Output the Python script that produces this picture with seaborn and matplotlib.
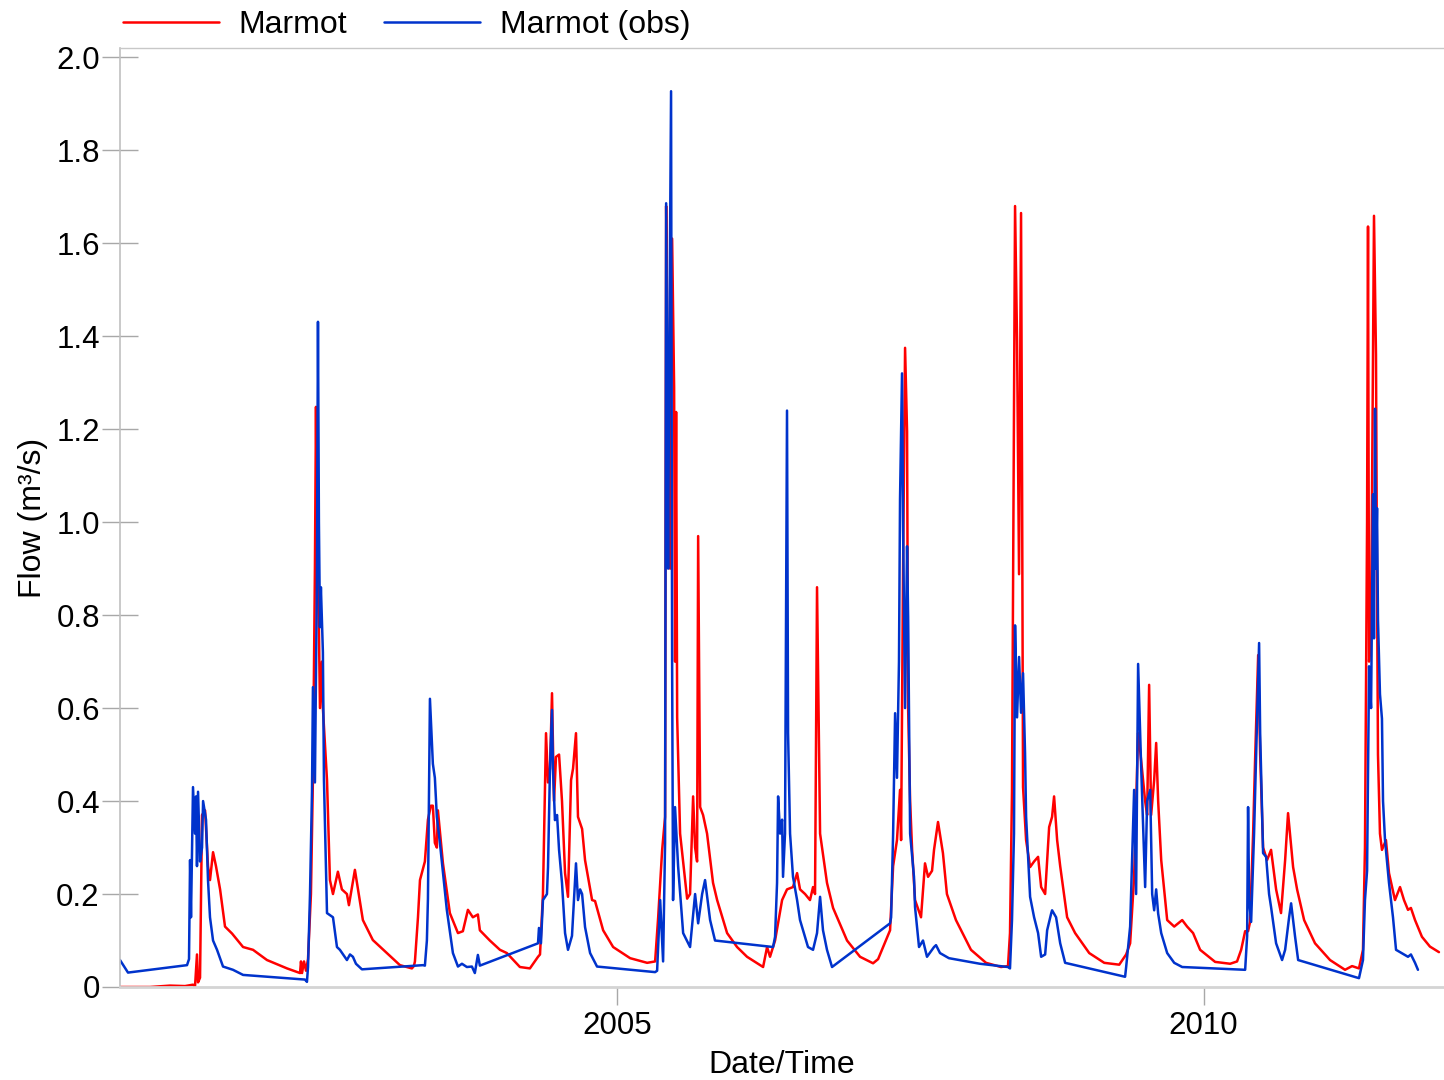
import matplotlib
matplotlib.use("Agg")
import matplotlib.pyplot as plt
import matplotlib.dates as mdates
from matplotlib.ticker import FuncFormatter
import numpy as np
import pandas as pd
import seaborn as sns

# time as decimal years, flow in m3/s
sim_time = [
    2000.763, 2001.019, 2001.189, 2001.317, 2001.385, 2001.402, 2001.419, 2001.428, 2001.445, 2001.462,
    2001.488, 2001.513, 2001.530, 2001.556, 2001.581, 2001.616, 2001.658, 2001.718, 2001.812, 2001.897,
    2002.016, 2002.187, 2002.298, 2002.306, 2002.315, 2002.332, 2002.349, 2002.366, 2002.391, 2002.408,
    2002.425, 2002.434, 2002.442, 2002.459, 2002.468, 2002.485, 2002.493, 2002.528, 2002.553, 2002.579,
    2002.621, 2002.655, 2002.698, 2002.715, 2002.766, 2002.834, 2002.919, 2003.039, 2003.150, 2003.252,
    2003.269, 2003.278, 2003.304, 2003.321, 2003.363, 2003.389, 2003.414, 2003.431, 2003.448, 2003.465,
    2003.474, 2003.517, 2003.576, 2003.645, 2003.687, 2003.730, 2003.772, 2003.815, 2003.832, 2003.917,
    2004.003, 2004.062, 2004.173, 2004.258, 2004.327, 2004.344, 2004.369, 2004.395, 2004.412, 2004.429,
    2004.446, 2004.463, 2004.480, 2004.506, 2004.531, 2004.557, 2004.582, 2004.608, 2004.625, 2004.650,
    2004.667, 2004.702, 2004.727, 2004.787, 2004.812, 2004.881, 2004.966, 2005.111, 2005.256, 2005.324,
    2005.350, 2005.384, 2005.409, 2005.418, 2005.435, 2005.452, 2005.469, 2005.486, 2005.494, 2005.503,
    2005.512, 2005.537, 2005.563, 2005.597, 2005.622, 2005.648, 2005.665, 2005.682, 2005.691, 2005.708,
    2005.733, 2005.767, 2005.818, 2005.853, 2005.938, 2006.023, 2006.108, 2006.245, 2006.279, 2006.304,
    2006.347, 2006.407, 2006.449, 2006.500, 2006.535, 2006.560, 2006.603, 2006.645, 2006.671, 2006.688,
    2006.705, 2006.731, 2006.790, 2006.842, 2006.961, 2007.072, 2007.183, 2007.226, 2007.328, 2007.354,
    2007.387, 2007.413, 2007.422, 2007.439, 2007.456, 2007.473, 2007.482, 2007.499, 2007.516, 2007.541,
    2007.592, 2007.626, 2007.652, 2007.686, 2007.703, 2007.737, 2007.779, 2007.813, 2007.890, 2008.018,
    2008.146, 2008.274, 2008.333, 2008.350, 2008.367, 2008.393, 2008.410, 2008.427, 2008.444, 2008.453,
    2008.461, 2008.487, 2008.521, 2008.555, 2008.589, 2008.615, 2008.649, 2008.683, 2008.708, 2008.725,
    2008.751, 2008.777, 2008.836, 2008.904, 2009.024, 2009.152, 2009.280, 2009.339, 2009.373, 2009.407,
    2009.441, 2009.458, 2009.501, 2009.518, 2009.535, 2009.552, 2009.578, 2009.595, 2009.612, 2009.638,
    2009.689, 2009.749, 2009.817, 2009.859, 2009.910, 2009.970, 2010.098, 2010.226, 2010.285, 2010.320,
    2010.354, 2010.379, 2010.396, 2010.422, 2010.439, 2010.465, 2010.482, 2010.507, 2010.541, 2010.575,
    2010.618, 2010.660, 2010.695, 2010.720, 2010.763, 2010.797, 2010.857, 2010.950, 2011.078, 2011.206,
    2011.266, 2011.325, 2011.359, 2011.376, 2011.394, 2011.402, 2011.411, 2011.428, 2011.436, 2011.453,
    2011.470, 2011.479, 2011.487, 2011.504, 2011.521, 2011.555, 2011.581, 2011.632, 2011.675, 2011.709,
    2011.743, 2011.768, 2011.803, 2011.862, 2011.930, 2012.007,
]
sim_flow = [
    0.0, 0.0, 0.003, 0.002, 0.005, 0.0, 0.07, 0.01, 0.02, 0.37,
    0.38, 0.26, 0.23, 0.29, 0.26, 0.21, 0.13, 0.115, 0.086, 0.08,
    0.058, 0.04, 0.03, 0.055, 0.03, 0.055, 0.035, 0.06, 0.2, 0.45,
    0.9, 1.248, 0.95, 0.77, 0.6, 0.7, 0.6, 0.445, 0.23, 0.2,
    0.248, 0.21, 0.2, 0.176, 0.252, 0.144, 0.101, 0.073, 0.047, 0.04,
    0.045, 0.055, 0.15, 0.23, 0.27, 0.36, 0.39, 0.39, 0.31, 0.30,
    0.38, 0.266, 0.159, 0.116, 0.12, 0.166, 0.15, 0.156, 0.122, 0.10,
    0.08, 0.073, 0.043, 0.04, 0.065, 0.07, 0.2, 0.546, 0.44, 0.47,
    0.632, 0.40, 0.495, 0.5, 0.4, 0.245, 0.194, 0.445, 0.47, 0.546,
    0.366, 0.34, 0.273, 0.187, 0.185, 0.122, 0.086, 0.062, 0.052, 0.055,
    0.15, 0.295, 0.366, 1.68, 1.2, 0.9, 1.61, 1.29, 0.7, 1.237,
    0.58, 0.33, 0.27, 0.19, 0.2, 0.41, 0.30, 0.27, 0.97, 0.387,
    0.37, 0.33, 0.224, 0.187, 0.116, 0.086, 0.065, 0.043, 0.086, 0.065,
    0.1, 0.187, 0.21, 0.215, 0.245, 0.21, 0.2, 0.187, 0.215, 0.2,
    0.86, 0.33, 0.224, 0.17, 0.10, 0.065, 0.051, 0.06, 0.122, 0.26,
    0.316, 0.424, 0.316, 0.9, 1.375, 1.195, 0.6, 0.40, 0.295, 0.187,
    0.15, 0.266, 0.237, 0.25, 0.295, 0.355, 0.288, 0.2, 0.144, 0.08,
    0.052, 0.043, 0.045, 0.116, 0.42, 1.68, 1.39, 0.888, 1.665, 1.07,
    0.43, 0.316, 0.258, 0.27, 0.28, 0.215, 0.2, 0.344, 0.366, 0.41,
    0.316, 0.26, 0.15, 0.116, 0.073, 0.052, 0.048, 0.07, 0.094, 0.237,
    0.546, 0.51, 0.40, 0.37, 0.65, 0.37, 0.445, 0.525, 0.40, 0.273,
    0.144, 0.13, 0.144, 0.13, 0.116, 0.08, 0.054, 0.05, 0.055, 0.08,
    0.12, 0.12, 0.14, 0.33, 0.49, 0.714, 0.5, 0.30, 0.273, 0.295,
    0.21, 0.159, 0.273, 0.374, 0.258, 0.21, 0.144, 0.094, 0.058, 0.037,
    0.045, 0.04, 0.08, 0.3, 1.0, 1.636, 0.7, 0.77, 1.06, 1.659,
    1.36, 0.86, 0.5, 0.33, 0.295, 0.316, 0.245, 0.187, 0.215, 0.187,
    0.166, 0.17, 0.144, 0.108, 0.087, 0.075,
]

obs_time = [
    2000.763, 2000.831, 2001.334, 2001.351, 2001.360, 2001.368, 2001.385, 2001.402, 2001.411, 2001.419,
    2001.428, 2001.445, 2001.462, 2001.471, 2001.496, 2001.513, 2001.530, 2001.556, 2001.590, 2001.641,
    2001.726, 2001.812, 2002.340, 2002.357, 2002.366, 2002.383, 2002.400, 2002.408, 2002.425, 2002.442,
    2002.451, 2002.459, 2002.468, 2002.476, 2002.493, 2002.502, 2002.528, 2002.579, 2002.613, 2002.638,
    2002.698, 2002.724, 2002.749, 2002.775, 2002.826, 2003.346, 2003.363, 2003.380, 2003.389, 2003.406,
    2003.431, 2003.448, 2003.465, 2003.491, 2003.550, 2003.602, 2003.645, 2003.679, 2003.721, 2003.764,
    2003.789, 2003.815, 2003.832, 2004.327, 2004.335, 2004.352, 2004.369, 2004.403, 2004.412, 2004.429,
    2004.446, 2004.454, 2004.471, 2004.489, 2004.506, 2004.531, 2004.557, 2004.582, 2004.616, 2004.650,
    2004.667, 2004.685, 2004.702, 2004.727, 2004.770, 2004.829, 2005.324, 2005.341, 2005.367, 2005.392,
    2005.409, 2005.418, 2005.435, 2005.443, 2005.460, 2005.469, 2005.477, 2005.494, 2005.520, 2005.563,
    2005.622, 2005.665, 2005.691, 2005.725, 2005.750, 2005.793, 2005.835, 2006.330, 2006.347, 2006.364,
    2006.373, 2006.390, 2006.407, 2006.415, 2006.432, 2006.449, 2006.458, 2006.475, 2006.500, 2006.535,
    2006.560, 2006.586, 2006.628, 2006.671, 2006.705, 2006.731, 2006.756, 2006.790, 2006.833, 2007.328,
    2007.337, 2007.354, 2007.371, 2007.387, 2007.404, 2007.413, 2007.430, 2007.439, 2007.456, 2007.473,
    2007.482, 2007.499, 2007.532, 2007.541, 2007.575, 2007.609, 2007.643, 2007.703, 2007.720, 2007.754,
    2007.830, 2008.094, 2008.333, 2008.350, 2008.367, 2008.384, 2008.393, 2008.410, 2008.427, 2008.444,
    2008.461, 2008.478, 2008.487, 2008.521, 2008.555, 2008.589, 2008.615, 2008.649, 2008.666, 2008.700,
    2008.708, 2008.742, 2008.777, 2008.819, 2009.330, 2009.339, 2009.373, 2009.407, 2009.424, 2009.441,
    2009.467, 2009.501, 2009.518, 2009.544, 2009.561, 2009.578, 2009.595, 2009.612, 2009.638, 2009.689,
    2009.749, 2009.817, 2010.354, 2010.371, 2010.379, 2010.388, 2010.405, 2010.430, 2010.473, 2010.482,
    2010.507, 2010.533, 2010.558, 2010.575, 2010.618, 2010.669, 2010.695, 2010.729, 2010.746, 2010.780,
    2010.806, 2011.325, 2011.359, 2011.376, 2011.394, 2011.411, 2011.428, 2011.445, 2011.453, 2011.462,
    2011.470, 2011.479, 2011.487, 2011.504, 2011.521, 2011.530, 2011.547, 2011.581, 2011.615, 2011.641,
    2011.675, 2011.743, 2011.768, 2011.803, 2011.828,
]
obs_flow = [
    0.058, 0.031, 0.047, 0.06, 0.273, 0.15, 0.43, 0.33, 0.41, 0.26,
    0.42, 0.27, 0.30, 0.40, 0.36, 0.23, 0.15, 0.10, 0.08, 0.044,
    0.037, 0.026, 0.016, 0.011, 0.043, 0.20, 0.42, 0.645, 0.44, 0.875,
    1.431, 1.0, 0.774, 0.86, 0.72, 0.445, 0.159, 0.15, 0.086, 0.08,
    0.058, 0.07, 0.065, 0.05, 0.038, 0.047, 0.046, 0.1, 0.19, 0.62,
    0.48, 0.45, 0.366, 0.31, 0.166, 0.073, 0.044, 0.05, 0.043, 0.044,
    0.03, 0.069, 0.046, 0.094, 0.127, 0.094, 0.187, 0.2, 0.258, 0.473,
    0.596, 0.47, 0.359, 0.37, 0.295, 0.224, 0.116, 0.08, 0.11, 0.266,
    0.187, 0.21, 0.2, 0.129, 0.073, 0.044, 0.032, 0.035, 0.187, 0.055,
    0.31, 1.686, 0.9, 1.3, 1.927, 0.7, 0.187, 0.387, 0.26, 0.116,
    0.086, 0.2, 0.137, 0.2, 0.23, 0.144, 0.10, 0.086, 0.108, 0.224,
    0.41, 0.33, 0.36, 0.237, 0.33, 1.24, 0.546, 0.33, 0.237, 0.187,
    0.144, 0.122, 0.086, 0.08, 0.116, 0.194, 0.122, 0.08, 0.043, 0.137,
    0.15, 0.33, 0.589, 0.45, 0.7, 1.05, 1.32, 0.99, 0.6, 0.948,
    0.796, 0.33, 0.237, 0.172, 0.086, 0.10, 0.065, 0.086, 0.09, 0.073,
    0.062, 0.05, 0.043, 0.04, 0.144, 0.33, 0.778, 0.58, 0.71, 0.59,
    0.675, 0.503, 0.366, 0.194, 0.15, 0.116, 0.065, 0.07, 0.122, 0.158,
    0.165, 0.15, 0.094, 0.052, 0.022, 0.043, 0.13, 0.424, 0.2, 0.695,
    0.473, 0.215, 0.40, 0.424, 0.2, 0.165, 0.21, 0.158, 0.116, 0.073,
    0.052, 0.043, 0.037, 0.11, 0.387, 0.187, 0.14, 0.33, 0.74, 0.546,
    0.288, 0.28, 0.2, 0.172, 0.094, 0.058, 0.08, 0.15, 0.18, 0.108,
    0.058, 0.019, 0.058, 0.187, 0.25, 0.69, 0.6, 1.06, 0.75, 1.244,
    0.9, 1.03, 0.79, 0.63, 0.577, 0.40, 0.316, 0.224, 0.15, 0.08,
    0.075, 0.065, 0.07, 0.052, 0.037,
]

series_names = ["Marmot", "Marmot (obs)"]
series_colors = ["#ff0000", "#0033cc"]
x_start, x_end = 2000.763, 2012.05


def to_datetime(years):
    out = []
    for v in years:
        yr = int(v)
        start = pd.Timestamp(year=yr, month=1, day=1)
        end = pd.Timestamp(year=yr + 1, month=1, day=1)
        out.append(start + (end - start) * (v - yr))
    return pd.to_datetime(out)


df = pd.concat([
    pd.DataFrame({"time": to_datetime(sim_time), "flow": sim_flow, "series": series_names[0]}),
    pd.DataFrame({"time": to_datetime(obs_time), "flow": obs_flow, "series": series_names[1]}),
], ignore_index=True)

sns.set_style("ticks")
plt.rcParams["font.family"] = ["Liberation Sans", "DejaVu Sans"]
plt.rcParams["text.color"] = "black"
plt.rcParams["axes.labelcolor"] = "black"
plt.rcParams["xtick.labelcolor"] = "black"
plt.rcParams["ytick.labelcolor"] = "black"

W, H = 1444, 1080
fig = plt.figure(figsize=(W / 100, H / 100), dpi=100)
ax = fig.add_axes([120 / W, 1 - 987 / H, 1 - 120 / W, (987 - 48) / H])

sns.lineplot(data=df, x="time", y="flow", hue="series", hue_order=series_names,
             palette=dict(zip(series_names, series_colors)), estimator=None, sort=False,
             linewidth=1.8, ax=ax)

ax.set_xlim(to_datetime([x_start])[0], to_datetime([x_end])[0])
ax.set_ylim(0, 2.02)
ax.set_yticks(np.arange(0, 2.01, 0.2))
ax.yaxis.set_major_formatter(FuncFormatter(lambda v, p: "0" if abs(v) < 1e-9 else f"{v:.1f}"))
ax.xaxis.set_major_locator(mdates.YearLocator(5))
ax.xaxis.set_major_formatter(mdates.DateFormatter("%Y"))

ax.tick_params(axis="y", direction="inout", length=26, width=1, color="#a8a8a8", pad=1.5,
               labelsize=22.5, labelcolor="black")
ax.tick_params(axis="x", direction="out", length=13, width=1, color="#a8a8a8", pad=4,
               labelsize=22.5, labelcolor="black")

ax.set_xlabel("Date/Time", fontsize=23, labelpad=7, color="black")
ax.set_ylabel("Flow (m³/s)", fontsize=23, labelpad=6, color="black")

ax.spines["right"].set_visible(False)
ax.spines["top"].set_color("#c8c8c8")
ax.spines["top"].set_linewidth(1)
ax.spines["left"].set_color("#c0c0c0")
ax.spines["left"].set_linewidth(1.2)
ax.spines["bottom"].set_color("#d4d4d4")
ax.spines["bottom"].set_linewidth(2)

handles, labels = ax.get_legend_handles_labels()
ax.get_legend().remove()
leg = fig.legend(handles, labels, loc="lower left", bbox_to_anchor=(123 / W, 1 - 40 / H),
                 bbox_transform=fig.transFigure, frameon=False, ncol=2, fontsize=23,
                 handlelength=3.0, handletextpad=0.62, columnspacing=1.15,
                 borderpad=0, borderaxespad=0)
for t in leg.get_texts():
    t.set_color("black")

fig.savefig("out.png", dpi=100)
